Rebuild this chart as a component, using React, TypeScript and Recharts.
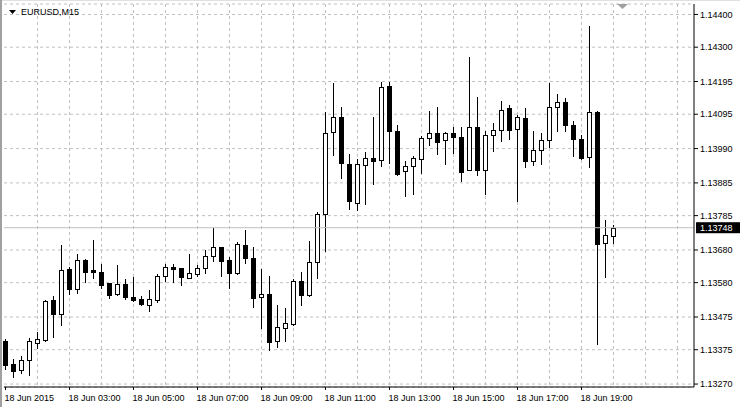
import { ComposedChart, Bar, XAxis, YAxis, CartesianGrid, ReferenceLine } from "recharts";

const FONT = "'Liberation Sans', Arial, sans-serif";

// M15 bars, 18 Jun 2015
const times = [
  "01:00", "01:15", "01:30", "01:45", "02:00", "02:15", "02:30", "02:45",
  "03:00", "03:15", "03:30", "03:45", "04:00", "04:15", "04:30", "04:45",
  "05:00", "05:15", "05:30", "05:45", "06:00", "06:15", "06:30", "06:45",
  "07:00", "07:15", "07:30", "07:45", "08:00", "08:15", "08:30", "08:45",
  "09:00", "09:15", "09:30", "09:45", "10:00", "10:15", "10:30", "10:45",
  "11:00", "11:15", "11:30", "11:45", "12:00", "12:15", "12:30", "12:45",
  "13:00", "13:15", "13:30", "13:45", "14:00", "14:15", "14:30", "14:45",
  "15:00", "15:15", "15:30", "15:45", "16:00", "16:15", "16:30", "16:45",
  "17:00", "17:15", "17:30", "17:45", "18:00", "18:15", "18:30", "18:45",
  "19:00", "19:15", "19:30", "19:45", "20:00",
];
// empty space right of the last bar
const futureSlots = ["20:15", "20:30", "20:45", "21:00", "21:15", "21:30", "21:45", "22:00", "22:15"];

const opens = [
  1.13401, 1.13331, 1.13313, 1.13343, 1.13396, 1.13405, 1.13527, 1.13485,
  1.13622, 1.13561, 1.13649, 1.13619, 1.13612, 1.13579, 1.13546, 1.13576,
  1.13536, 1.1353, 1.13513, 1.13527, 1.13598, 1.13627, 1.13624, 1.13595,
  1.13607, 1.13624, 1.13661, 1.13688, 1.13648, 1.13607, 1.13695, 1.13654,
  1.13535, 1.13545, 1.13402, 1.13442, 1.13453, 1.13585, 1.13542, 1.13644,
  1.13789, 1.14039, 1.14086, 1.13943, 1.13824, 1.13941, 1.13961, 1.13954,
  1.14181, 1.14044, 1.1392, 1.13936, 1.13957, 1.14021, 1.14037, 1.14015,
  1.14037, 1.14024, 1.13924, 1.14055, 1.13924, 1.14031, 1.14046, 1.14113,
  1.14049, 1.14083, 1.13951, 1.13985, 1.14015, 1.14116, 1.14131, 1.14061,
  1.14019, 1.13963, 1.14101, 1.137, 1.13725,
];
const highs = [
  1.13408, 1.13347, 1.13356, 1.13411, 1.13428, 1.13527, 1.13539, 1.13695,
  1.13628, 1.13668, 1.13652, 1.1371, 1.13637, 1.1358, 1.13634, 1.13591,
  1.13598, 1.13539, 1.13557, 1.13605, 1.13637, 1.13637, 1.13625, 1.13668,
  1.13634, 1.1368, 1.13747, 1.13689, 1.13658, 1.13704, 1.13741, 1.13689,
  1.13622, 1.136, 1.13511, 1.13502, 1.13591, 1.13612, 1.13707, 1.13796,
  1.14102, 1.14191, 1.14117, 1.13973, 1.13958, 1.1398, 1.14087, 1.14194,
  1.14194, 1.14062, 1.13952, 1.13967, 1.14028, 1.14105, 1.14117, 1.14041,
  1.14055, 1.14055, 1.14269, 1.14148, 1.14045, 1.14067, 1.14135, 1.14122,
  1.14092, 1.14113, 1.14045, 1.14037, 1.14191, 1.14157, 1.14145, 1.14074,
  1.14032, 1.14365, 1.14106, 1.13772, 1.13756,
];
const lows = [
  1.13316, 1.13291, 1.13304, 1.13298, 1.13381, 1.13401, 1.13414, 1.1345,
  1.13545, 1.13549, 1.13583, 1.13595, 1.13564, 1.13534, 1.13542, 1.1353,
  1.13525, 1.13512, 1.13494, 1.13521, 1.13585, 1.13583, 1.13574, 1.13594,
  1.136, 1.13609, 1.13647, 1.136, 1.13564, 1.13606, 1.13641, 1.13505,
  1.13442, 1.13374, 1.13384, 1.13401, 1.1345, 1.13512, 1.1354, 1.13595,
  1.13677, 1.1397, 1.13901, 1.13806, 1.13802, 1.13821, 1.13882, 1.13938,
  1.13947, 1.1391, 1.13846, 1.13852, 1.13916, 1.14002, 1.13974, 1.13944,
  1.13977, 1.13892, 1.13923, 1.1391, 1.13852, 1.13983, 1.14014, 1.1402,
  1.13831, 1.13933, 1.13941, 1.13942, 1.13995, 1.14045, 1.14045, 1.13967,
  1.13959, 1.13935, 1.13393, 1.13598, 1.13702,
];
const closes = [
  1.13328, 1.1331, 1.13343, 1.13401, 1.13407, 1.13524, 1.13485, 1.13619,
  1.13561, 1.13649, 1.13613, 1.13613, 1.13573, 1.13543, 1.13576, 1.13537,
  1.13527, 1.13515, 1.1353, 1.136, 1.13627, 1.13622, 1.13595, 1.13609,
  1.13624, 1.13661, 1.13688, 1.13644, 1.13609, 1.13697, 1.13656, 1.13531,
  1.13544, 1.13399, 1.13444, 1.13456, 1.13585, 1.13543, 1.13642, 1.1379,
  1.14037, 1.14086, 1.13944, 1.13831, 1.13943, 1.13961, 1.13953, 1.14177,
  1.14042, 1.13913, 1.13936, 1.13961, 1.14021, 1.14037, 1.14011, 1.14037,
  1.14026, 1.13917, 1.14055, 1.13924, 1.14031, 1.14046, 1.14107, 1.14046,
  1.14086, 1.13951, 1.13985, 1.14015, 1.14116, 1.14131, 1.1406, 1.14017,
  1.13962, 1.14101, 1.13696, 1.13725, 1.13748,
];

const priceTicks = [
  1.1327, 1.13375, 1.13475, 1.1358, 1.1368, 1.13785,
  1.13885, 1.1399, 1.14095, 1.14195, 1.143, 1.144,
];
const timeTicks = ["01:00", "03:00", "05:00", "07:00", "09:00", "11:00", "13:00", "15:00", "17:00", "19:00"];
const hourLines = [
  "02:00", "03:00", "04:00", "05:00", "06:00", "07:00", "08:00", "09:00", "10:00", "11:00", "12:00",
  "13:00", "14:00", "15:00", "16:00", "17:00", "18:00", "19:00", "20:00", "21:00", "22:00",
];
const lastPrice = 1.13748;
const priceDomain = [1.13261, 1.14432];
const xPadding = { left: -2.5, right: 4.5 };

const data = [...times, ...futureSlots].map((t, i) =>
  i < times.length
    ? { t, range: [lows[i], highs[i]], open: opens[i], high: highs[i], low: lows[i], close: closes[i] }
    : { t, range: null }
);

// hourly vertical grid, positioned through the x axis scale
function hourGrid({ xAxis }: any) {
  const scale = xAxis?.scale;
  if (!scale) return [];
  const bw = typeof scale.bandwidth === "function" ? scale.bandwidth() : 0;
  const pos = (v: string) =>
    typeof scale === "function" ? scale(v) : typeof scale.map === "function" ? scale.map(v) : NaN;
  return hourLines.map((h) => Math.floor(pos(h) + bw / 2) + 0.5).filter((v) => Number.isFinite(v));
}

function Candle(props: any) {
  const { x, y, width, height, payload } = props;
  if (!payload || payload.open == null) return null;
  const { open, close, high, low } = payload;
  const top = height < 0 ? y + height : y;
  const h = Math.abs(height);
  const cx = Math.floor(x + width / 2) + 0.5;
  const per = h / (high - low || 1);
  const yo = top + (high - open) * per;
  const yc = top + (high - close) * per;
  const bTop = Math.round(Math.min(yo, yc)) + 0.5;
  const bH = Math.max(Math.round(Math.abs(yo - yc)), 1);
  const up = close >= open;
  return (
    <g>
      <line x1={cx} x2={cx} y1={Math.round(top)} y2={Math.round(top + h) + 1} stroke="#000" />
      <rect x={cx - 2} y={bTop} width={4} height={bH} fill={up ? "#fff" : "#000"} stroke="#000" />
    </g>
  );
}

function TimeTick({ x, y, payload }: any) {
  const text = payload.value === times[0] ? "18 Jun 2015" : `18 Jun ${payload.value}`;
  return (
    <text x={x - 1} y={y} dy={9} textAnchor="start" fill="#000" fontSize={9} fontFamily={FONT}>
      {text}
    </text>
  );
}

function PriceTag({ viewBox }: any) {
  if (!viewBox) return null;
  const x = viewBox.x + viewBox.width + 2;
  return (
    <g>
      <rect x={x} y={viewBox.y - 5.5} width={44} height={11} fill="#000" />
      <text x={x + 4} y={viewBox.y + 3.5} fill="#fff" fontSize={9} fontFamily={FONT}>
        {lastPrice.toFixed(5)}
      </text>
    </g>
  );
}

export default function App() {
  return (
    <div
      style={{
        position: "absolute",
        left: 0,
        top: 0,
        width: 740,
        height: 407,
        background: "#fff",
        boxShadow: "inset 2px 0 0 #a0a0a0, inset 0 1px 0 #e0e0e0",
      }}
    >
      <ComposedChart
        width={740}
        height={407}
        data={data}
        margin={{ top: 4, right: 0, bottom: 0, left: 4 }}
        barCategoryGap={0}
      >
        <CartesianGrid
          yAxisId="p"
          stroke="#c0c0c0"
          strokeDasharray="3 3"
          verticalCoordinatesGenerator={hourGrid}
        />
        <XAxis
          dataKey="t"
          ticks={timeTicks}
          interval={0}
          height={20}
          padding={xPadding}
          tickSize={3}
          axisLine={{ stroke: "#000" }}
          tickLine={{ stroke: "#000" }}
          tick={<TimeTick />}
        />
        <XAxis xAxisId="top" dataKey="t" orientation="top" height={0} tick={false} tickLine={false} axisLine={{ stroke: "#000" }} />
        <YAxis
          yAxisId="p"
          orientation="right"
          type="number"
          domain={priceDomain}
          allowDataOverflow
          ticks={priceTicks}
          interval={0}
          width={46}
          tickSize={4}
          tickMargin={2}
          axisLine={{ stroke: "#000" }}
          tickLine={{ stroke: "#000" }}
          tick={{ fill: "#000", fontSize: 9, fontFamily: FONT }}
          tickFormatter={(v: number) => v.toFixed(5)}
        />
        <YAxis yAxisId="b" orientation="left" width={0} domain={priceDomain} tick={false} tickLine={false} axisLine={{ stroke: "#000" }} />
        <ReferenceLine y={lastPrice} yAxisId="p" stroke="#c0c0c0" label={<PriceTag />} />
        <Bar yAxisId="p" dataKey="range" shape={<Candle />} isAnimationActive={false} />
      </ComposedChart>
      <div
        style={{
          position: "absolute",
          left: 9,
          top: 7,
          display: "flex",
          alignItems: "center",
          fontFamily: FONT,
          fontSize: 9,
          color: "#000",
          pointerEvents: "none",
        }}
      >
        <svg width={7} height={5} style={{ marginRight: 5 }}>
          <polygon points="0,0 7,0 3.5,4" fill="#000" />
        </svg>
        <span>EURUSD,M15</span>
      </div>
      <svg style={{ position: "absolute", left: 617, top: 4 }} width={11} height={6}>
        <polygon points="0,0 11,0 5.5,5" fill="#a0a0a0" />
      </svg>
    </div>
  );
}
